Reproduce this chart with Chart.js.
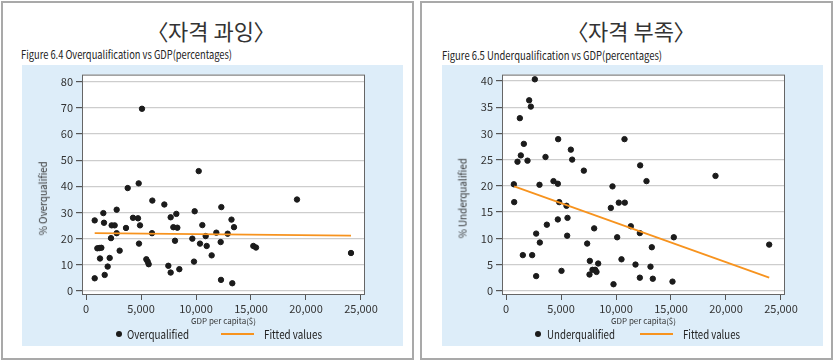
<!DOCTYPE html>
<html>
<head>
<meta charset="utf-8">
<script src="https://cdn.jsdelivr.net/npm/chart.js@4.4.1/dist/chart.umd.min.js"></script>
<style>
  body { margin: 0; width: 834px; height: 360px; background: #fff; position: relative; overflow: hidden;
         font-family: "Noto Sans CJK KR", "Noto Sans", sans-serif; color: #222; }
  .painel { position: absolute; top: 1px; width: 413px; height: 359px; border: 2px solid #a9a9a9; box-sizing: border-box; }
  .fundo { position: absolute; top: 65px; width: 381px; height: 281px; background: #ddedf9; }
  .t { position: absolute; white-space: nowrap; line-height: 1; transform-origin: 0 50%; }
  .titulo { position: absolute; top: 17px; width: 220px; text-align: center; font-size: 22px; color: #333;
            font-feature-settings: "palt"; line-height: 26px; }
  canvas { position: absolute; top: 65px; }
  .ponto { position: absolute; width: 6px; height: 6px; border-radius: 50%; background: #1b1b1b; }
  .linha { position: absolute; height: 2px; background: #f7931e; }
  .ytit { position: absolute; white-space: nowrap; font-size: 10.5px; line-height: 1; color: #333;
          transform-origin: 50% 50%; }
</style>
</head>
<body>
<div class="painel" style="left:1px"></div>
<div class="painel" style="left:420px"></div>
<div class="fundo" style="left:22px"></div>
<div class="fundo" style="left:442px"></div>

<div class="titulo" style="left:101px">〈자격 과잉〉</div>
<div class="titulo" style="left:521px">〈자격 부족〉</div>

<div class="t" data-w="211" style="left:21px; top:49px; font-size:11.5px">Figure 6.4 Overqualification vs GDP(percentages)</div>
<div class="t" data-w="220" style="left:442px; top:50px; font-size:11.5px">Figure 6.5 Underqualification vs GDP(percentages)</div>

<canvas id="graficoSobre" width="381" height="262" style="left:22px"></canvas>
<canvas id="graficoSub" width="381" height="262" style="left:442px"></canvas>

<div class="ytit" data-w="74" data-cx="43" data-cy="198">% Overqualified</div>
<div class="ytit" data-w="80" data-cx="463" data-cy="198">% Underqualified</div>

<div class="ponto" style="left:116px; top:331px"></div>
<div class="t" data-w="62" style="left:127px; top:328px; font-size:12px">Overqualified</div>
<div class="linha" style="left:221px; top:333px; width:33px"></div>
<div class="t" data-w="58" style="left:264px; top:328px; font-size:12px">Fitted values</div>

<div class="ponto" style="left:535px; top:331px"></div>
<div class="t" data-w="68" style="left:547px; top:328px; font-size:12px">Underqualified</div>
<div class="linha" style="left:640px; top:333px; width:33px"></div>
<div class="t" data-w="57" style="left:683px; top:328px; font-size:12px">Fitted values</div>

<script>
// eixo x comum (PIB per capita)
const gdpTicks = [0, 5000, 10000, 15000, 20000, 25000];

// Figure 6.4 - sobrequalificacao
const overGdp = [790, 1576, 1636, 2788, 2333, 2606, 2788, 2273, 1030, 1212,
  1394, 1273, 2151, 1970, 3060, 790, 1697, 3636, 4273, 4727,
  4909, 4818, 5485, 5606, 5697, 6030, 6000, 7121, 7697, 8212,
  7939, 8303, 8091, 7485, 7697, 8485, 9879, 9667, 9818, 10364,
  10576, 10879, 10970, 11424, 11848, 12303, 12242, 12273, 12879, 13227,
  13455, 13300, 15212, 15455, 19182, 24091, 5090, 10245, 3790, 4790];
const overPct = [26.9, 29.7, 26.0, 31.0, 25.0, 25.0, 22.0, 20.1, 16.2, 16.3,
  16.4, 12.3, 12.5, 9.2, 15.3, 4.7, 6.0, 24.0, 27.9, 27.7,
  25.0, 18.0, 12.0, 11.1, 10.1, 34.5, 22.0, 33.0, 28.1, 29.4,
  24.3, 24.1, 19.1, 9.5, 6.9, 8.2, 30.4, 19.9, 11.1, 18.0,
  25.1, 20.9, 17.1, 13.5, 22.2, 32.0, 18.6, 4.1, 21.8, 27.2,
  24.3, 2.8, 17.1, 16.5, 34.9, 14.4, 69.7, 45.8, 39.3, 41.1];
const overFitX = [790, 24091];
const overFitY = [22.0, 21.1];
const overTicksY = [0, 10, 20, 30, 40, 50, 60, 70, 80];

// Figure 6.5 - subqualificacao
const underGdp = [2621, 2106, 2258, 1258, 1621, 4742, 10773, 1348, 1045, 1955,
  3591, 5894, 6015, 7076, 12197, 712, 3045, 4318, 4712, 9682,
  12773, 19045, 745, 4836, 5500, 9530, 10255, 10800, 3712, 4712,
  5591, 2742, 5561, 8015, 11348, 12167, 3076, 7379, 10106, 15255,
  13255, 23927, 1530, 2379, 7621, 8379, 10500, 11773, 13136, 7864,
  8109, 8227, 7591, 5045, 2742, 9773, 12167, 13345, 15136];
const underPct = [40.3, 36.3, 35.1, 32.9, 28.0, 28.9, 28.9, 25.8, 24.6, 24.8,
  25.5, 26.9, 25.0, 22.9, 23.9, 20.3, 20.2, 20.9, 20.4, 19.9,
  20.9, 21.9, 16.9, 16.9, 16.2, 15.8, 16.8, 16.8, 12.6, 13.6,
  13.9, 10.9, 10.5, 11.9, 12.3, 11.0, 9.2, 9.0, 10.2, 10.2,
  8.3, 8.8, 6.8, 6.8, 5.7, 5.2, 6.0, 5.0, 4.6, 4.0,
  4.0, 3.6, 3.1, 3.8, 2.8, 1.25, 2.5, 2.3, 1.75];
const underFitX = [745, 23927];
const underFitY = [19.9, 2.5];
const underTicksY = [0, 5, 10, 15, 20, 25, 30, 35, 40];

Chart.defaults.font.family = '"Noto Sans CJK KR", "Noto Sans", sans-serif';
Chart.defaults.color = '#333';

// fundo branco e moldura da area do grafico
const moldura = {
  id: 'moldura',
  beforeDraw(chart) {
    const { ctx, chartArea: a } = chart;
    ctx.save();
    ctx.fillStyle = '#fff';
    ctx.fillRect(a.left, a.top, a.width, a.height);
    ctx.restore();
  },
  afterDraw(chart) {
    const { ctx, chartArea: a } = chart;
    ctx.save();
    ctx.strokeStyle = '#666';
    ctx.lineWidth = 1;
    ctx.strokeRect(a.left + 0.5, a.top + 0.5, a.width - 1, a.height - 1);
    ctx.restore();
  }
};

function desenharGrafico(canvasId, gdp, pct, fitX, fitY, ticksY, yMin, yMax) {
  const pontos = gdp.map((g, i) => ({ x: g, y: pct[i] }));
  const ajuste = fitX.map((g, i) => ({ x: g, y: fitY[i] }));

  const config = {
    type: 'scatter',
    data: {
      datasets: [{
        type: 'scatter',
        data: pontos,
        backgroundColor: '#1b1b1b',
        borderColor: '#1b1b1b',
        pointRadius: 2.7,
        pointHoverRadius: 2.7,
        order: 1
      }, {
        type: 'line',
        data: ajuste,
        borderColor: '#f7931e',
        borderWidth: 1.8,
        pointRadius: 0,
        fill: false,
        order: 0
      }]
    },
    options: {
      responsive: false,
      animation: false,
      events: [],
      layout: { padding: { top: 6, right: 38, left: 0, bottom: 0 } },
      plugins: { legend: { display: false }, tooltip: { enabled: false } },
      scales: {
        x: {
          type: 'linear',
          min: -364,
          max: 25364,
          afterBuildTicks: s => { s.ticks = gdpTicks.map(v => ({ value: v })); },
          afterFit: s => { s.height = 32; },
          grid: { drawOnChartArea: false, tickLength: 5, tickColor: '#555' },
          border: { display: false },
          ticks: {
            color: '#333', font: { size: 11 }, padding: 2, maxRotation: 0, autoSkip: false,
            callback: v => v.toLocaleString('en-US')
          },
          title: { display: true, text: 'GDP per capita($)', font: { size: 8 }, color: '#333', padding: { top: 0, bottom: 1 } }
        },
        y: {
          min: yMin,
          max: yMax,
          afterBuildTicks: s => { s.ticks = ticksY.map(v => ({ value: v })); },
          afterFit: s => { s.width = 60; },
          grid: { color: '#cdcdcd', lineWidth: 1.2, tickLength: 6, tickColor: '#555' },
          border: { display: false },
          ticks: { color: '#333', font: { size: 11 }, padding: 3 }
        }
      }
    },
    plugins: [moldura]
  };

  return new Chart(document.getElementById(canvasId), config);
}

desenharGrafico('graficoSobre', overGdp, overPct, overFitX, overFitY, overTicksY, -1.7, 82.8);
desenharGrafico('graficoSub', underGdp, underPct, underFitX, underFitY, underTicksY, -0.8, 41.2);

// ajusta largura dos textos ao original
document.querySelectorAll('.t[data-w]').forEach(el => {
  const w = el.getBoundingClientRect().width;
  el.style.transform = 'scaleX(' + (el.dataset.w / w) + ')';
});
document.querySelectorAll('.ytit').forEach(el => {
  const w = el.getBoundingClientRect().width;
  const h = el.getBoundingClientRect().height;
  el.style.left = (el.dataset.cx - w / 2) + 'px';
  el.style.top = (el.dataset.cy - h / 2) + 'px';
  el.style.transform = 'rotate(-90deg) scaleX(' + (el.dataset.w / w) + ')';
});
</script>
</body>
</html>
